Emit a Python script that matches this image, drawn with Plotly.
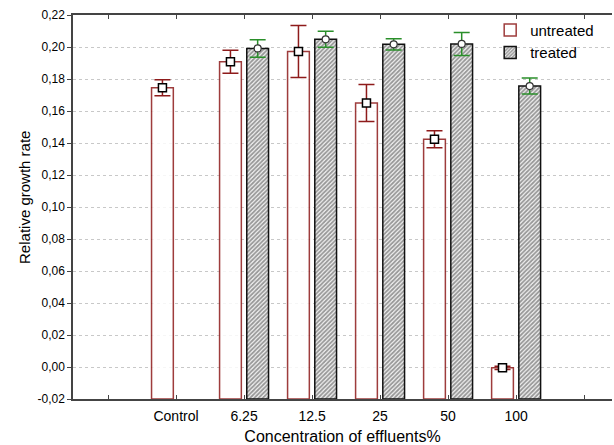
import plotly.graph_objects as go

# ---- data ----
categories = ["Control", "6.25", "12.5", "25", "50", "100"]
untreated = [0.1746, 0.1908, 0.1972, 0.1650, 0.1423, -0.0005]
untreated_err = [0.0050, 0.0072, 0.0163, 0.0115, 0.0053, 0.0010]
treated = [None, 0.1991, 0.2048, 0.2017, 0.2019, 0.1756]
treated_err = [None, 0.0055, 0.0050, 0.0035, 0.0072, 0.0050]
y_tick_vals = [-0.02, 0.0, 0.02, 0.04, 0.06, 0.08, 0.10, 0.12, 0.14, 0.16, 0.18, 0.20, 0.22]
y_tick_text = ["-0,02", "0,00", "0,02", "0,04", "0,06", "0,08", "0,10",
               "0,12", "0,14", "0,16", "0,18", "0,20", "0,22"]
BASE = -0.02

pos = list(range(1, len(categories) + 1))
x_tick_vals = [0] + pos + [len(categories) + 1]
x_tick_text = [""] + categories + [""]

FONT = "Liberation Sans, Arial, sans-serif"
RED = "#8e1b1b"
GREEN = "#2a8f2a"

fig = go.Figure()

fig.add_trace(go.Bar(
    x=pos, y=[v - BASE for v in untreated], base=BASE,
    width=0.32, offset=-0.36, name="untreated",
    marker=dict(color="white", line=dict(color=RED, width=1.5)),
    opacity=0.85,
))
fig.add_trace(go.Bar(
    x=pos, y=[None if v is None else v - BASE for v in treated], base=BASE,
    width=0.32, offset=0.04, name="treated",
    marker=dict(color="white", line=dict(color="#111111", width=1.5),
                pattern=dict(shape="/", fgcolor="#3a3a3a", bgcolor="#f4f4f4",
                             size=3, solidity=0.6)),
))

fig.add_trace(go.Scatter(
    x=[p - 0.2 for p in pos], y=untreated, mode="markers", showlegend=False,
    error_y=dict(type="data", array=untreated_err, color=RED, thickness=1.5, width=8),
    marker=dict(symbol="square", size=8, color="white", line=dict(color="black", width=1.5)),
))
fig.add_trace(go.Scatter(
    x=[p + 0.2 for p in pos], y=treated, mode="markers", showlegend=False,
    error_y=dict(type="data", array=treated_err, color=GREEN, thickness=1.5, width=8),
    marker=dict(symbol="circle", size=7, color="white", line=dict(color="#333333", width=1.2)),
))

fig.add_annotation(
    text="Relative growth rate", textangle=-90,
    xref="paper", yref="paper", x=-0.091, y=0.526,
    xanchor="center", yanchor="middle", showarrow=False,
    font=dict(size=15, family=FONT, color="black"),
)

fig.update_layout(
    width=614, height=445,
    margin=dict(l=73, r=2, t=15, b=46),
    paper_bgcolor="white", plot_bgcolor="white",
    barmode="overlay",
    font=dict(family=FONT, size=12, color="black"),
    legend=dict(x=0.774, y=1.003, xanchor="left", yanchor="top",
                bgcolor="rgba(0,0,0,0)", font=dict(size=15),
                tracegroupgap=0, itemwidth=30),
    xaxis=dict(
        range=[-0.515, 7.41], tickmode="array", tickvals=x_tick_vals, ticktext=x_tick_text,
        ticks="inside", ticklen=4, tickcolor="#444444",
        showline=True, linecolor="#444444", linewidth=1.5, mirror="ticks",
        showgrid=False, zeroline=False, tickfont=dict(size=14),
        ticklabelstandoff=3,
        title=dict(text="Concentration of effluents%", font=dict(size=16), standoff=9),
    ),
    yaxis=dict(
        range=[-0.02, 0.22], tickmode="array", tickvals=y_tick_vals, ticktext=y_tick_text,
        ticks="outside", ticklen=4, tickcolor="#444444",
        showline=True, linecolor="#444444", linewidth=1.5,
        showgrid=True, gridcolor="#c8c8c8", griddash="dot", gridwidth=1,
        zeroline=False, tickfont=dict(size=12),
    ),
)

fig.write_html("out.html")
